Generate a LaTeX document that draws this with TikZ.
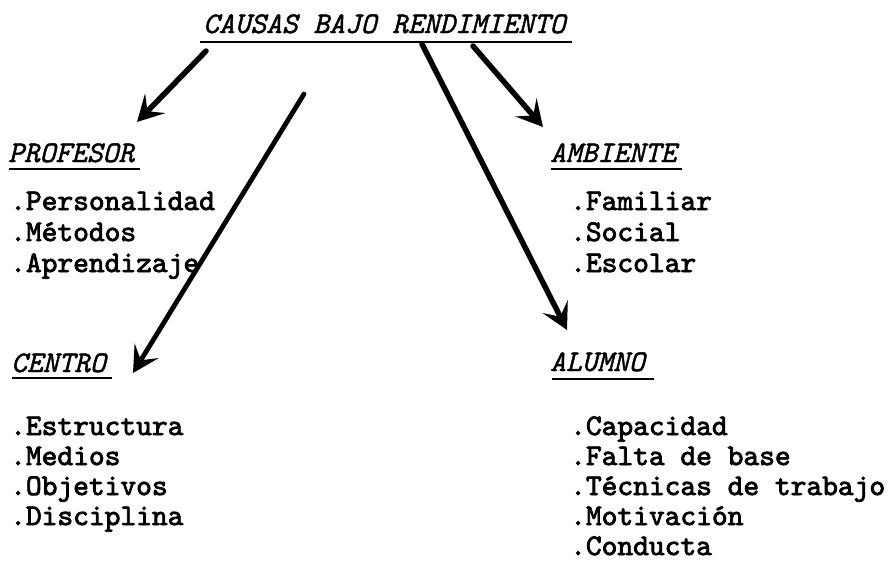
\documentclass[tikz,border=0pt]{standalone}
\usepackage{fontspec}
\usetikzlibrary{arrows.meta}
\newfontfamily\tw{lmmono10-regular.otf}[FakeBold=2.6]
\newfontfamily\twi{lmmono10-italic.otf}[FakeBold=1.4]
\tikzset{
  itemtext/.style={anchor=base west, inner sep=0pt, font=\tw\fontsize{30}{30}\selectfont},
  headtext/.style={anchor=base west, inner sep=0pt, font=\twi\fontsize{30}{30}\selectfont},
  uline/.style={line width=2.2pt},
  arr/.style={line width=5.5pt, line cap=round, -{Stealth[length=26pt,width=28pt,inset=11pt]}},
}
\begin{document}
\begin{tikzpicture}[x=1pt,y=-1pt]
\useasboundingbox[fill=white] (0,0) rectangle (892,571);
% title
\node[headtext] (title) at (203,33) {CAUSAS BAJO RENDIMIENTO};
\draw[uline] ([xshift=-3pt,yshift=-9pt]title.base west) -- ([xshift=6pt,yshift=-9pt]title.base east);
% headings
\node[headtext] (prof) at (8,162) {PROFESOR};
\draw[uline] ([xshift=1pt,yshift=-7pt]prof.base west) -- ([xshift=6pt,yshift=-7pt]prof.base east);
\node[headtext] (amb) at (550,162) {AMBIENTE};
\draw[uline] ([xshift=1pt,yshift=-7pt]amb.base west) -- ([xshift=6pt,yshift=-7pt]amb.base east);
\node[headtext] (cen) at (11,372) {CENTRO};
\draw[uline] ([xshift=1pt,yshift=-6pt]cen.base west) -- ([xshift=6pt,yshift=-6pt]cen.base east);
\node[headtext] (alu) at (550,371) {ALUMNO};
\draw[uline] ([xshift=2pt,yshift=-8pt]alu.base west) -- ([xshift=9pt,yshift=-8pt]alu.base east);
% items
\node[itemtext] (p1) at (10,210) {.Personalidad};
\node[itemtext] (p2) at (10,241) {.Métodos};
\node[itemtext] (p3) at (10,272) {.Aprendizaje};
\node[itemtext] (a1) at (570,210) {.Familiar};
\node[itemtext] (a2) at (570,241) {.Social};
\node[itemtext] (a3) at (570,272) {.Escolar};
\node[itemtext] (c1) at (10,435) {.Estructura};
\node[itemtext] (c2) at (10,465) {.Medios};
\node[itemtext] (c3) at (10,495) {.Objetivos};
\node[itemtext] (c4) at (10,525) {.Disciplina};
\node[itemtext] (l1) at (570,435) {.Capacidad};
\node[itemtext] (l2) at (570,465) {.Falta de base};
\node[itemtext] (l3) at (570,495) {.Técnicas de trabajo};
\node[itemtext] (l4) at (570,525) {.Motivación};
\node[itemtext] (l5) at (570,555) {.Conducta};
% arrows
\coordinate (sA) at (206,51);
\coordinate (tA) at (137,122);
\coordinate (sB) at (304,94);
\coordinate (tB) at (133,373);
\coordinate (sC) at (473,46);
\coordinate (tC) at (543,127);
\coordinate (sD) at (422,44);
\coordinate (tD) at (567,330);
\draw[arr] (sA) -- (tA);
\draw[arr,line width=4.8pt] (sB) -- (tB);
\draw[arr] (sC) -- (tC);
\draw[arr] (sD) -- (tD);
\end{tikzpicture}
\end{document}
